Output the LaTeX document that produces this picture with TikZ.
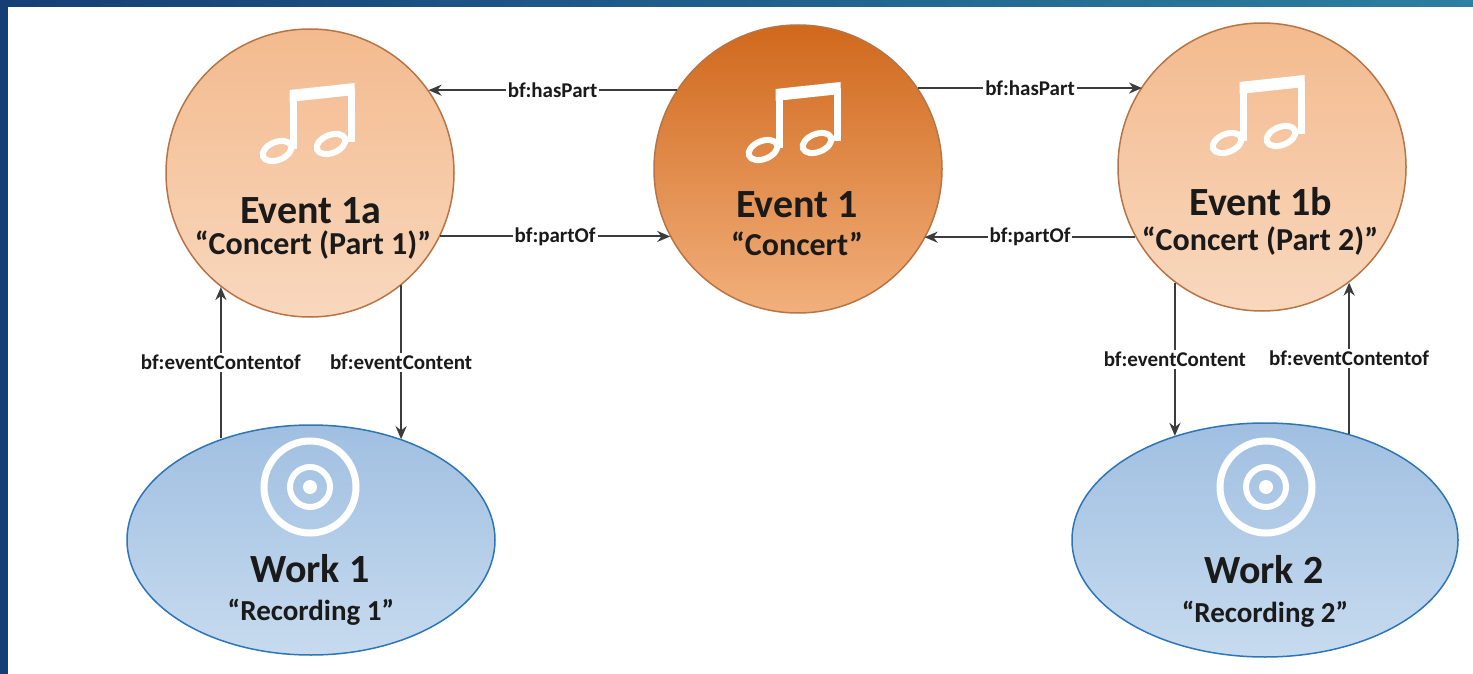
\documentclass[tikz,border=0pt]{standalone}
\usepackage{fontspec}
\setmainfont{Carlito}
\usetikzlibrary{arrows.meta,shapes.geometric}

\definecolor{bandleft}{RGB}{22,62,118}
\definecolor{bandright}{RGB}{44,128,160}
\definecolor{eventtop}{RGB}{243,186,142}
\definecolor{eventbot}{RGB}{249,216,190}
\definecolor{maintop}{RGB}{208,104,28}
\definecolor{mainbot}{RGB}{242,176,124}
\definecolor{eventline}{RGB}{184,116,68}
\definecolor{worktop}{RGB}{160,191,225}
\definecolor{workbot}{RGB}{199,219,239}
\definecolor{workline}{RGB}{46,117,182}
\definecolor{linegray}{RGB}{60,60,60}
\definecolor{ink}{RGB}{26,26,26}

\tikzset{
  event/.style={circle, draw=eventline, line width=1.5pt, minimum size=288pt, inner sep=0pt,
    top color=eventtop, bottom color=eventbot},
  mainevent/.style={event, top color=maintop, bottom color=mainbot},
  work/.style={ellipse, draw=workline, line width=1.5pt, inner sep=0pt,
    top color=worktop, bottom color=workbot},
  nametext/.style={font=\fontsize{40}{44}\selectfont\bfseries, text=ink, anchor=base},
  quotetext/.style={font=\fontsize{32}{36}\selectfont\bfseries, text=ink, anchor=base},
  rel/.style={draw=linegray, line width=2pt, -{Stealth[length=13pt,width=11pt]}},
  rellabel/.style={font=\fontsize{21}{23}\selectfont\bfseries, text=ink, fill=white, inner sep=2pt},
  pics/note/.style={code={
    \fill[white] (-18.5,-35) -- (46.5,-42) -- (46.5,-30) -- (-18.5,-23) -- cycle;
    \draw[white, line width=7pt] (-15,-30) -- (-15,24) (43,-36) -- (43,17);
    \draw[white, line width=6pt, shift={(-31,26)}, rotate=22] (0,0) ellipse [x radius=15, y radius=9];
    \draw[white, line width=6pt, shift={(23,19)}, rotate=22] (0,0) ellipse [x radius=15, y radius=9];
  }},
  pics/disc/.style={code={
    \draw[white, line width=7pt] (0,0) circle [radius=46];
    \draw[white, line width=6pt] (0,0) circle [radius=20];
    \fill[white] (0,0) circle [radius=7];
  }}
}

\begin{document}
\begin{tikzpicture}[x=1pt, y=-1pt]
  % frame
  \useasboundingbox (0,0) rectangle (1473,674);
  \fill[white] (0,0) rectangle (1473,674);
  \shade[left color=bandleft, right color=bandright] (0,0) rectangle (1473,7);
  \fill[bandleft] (0,0) rectangle (8,674);

  \node[event]     (Ev1a) at (310,173)  {};
  \node[mainevent] (Ev1)  at (798,169)  {};
  \node[event]     (Ev1b) at (1262,167) {};
  \node[work, minimum width=368pt, minimum height=230pt] (W1) at (311,540)  {};
  \node[work, minimum width=386pt, minimum height=234pt] (W2) at (1265,540) {};

  \pic at (308,125)  {note};
  \pic at (794,124)  {note};
  \pic at (1258,117) {note};
  \pic at (310,487)  {disc};
  \pic at (1266,487) {disc};

  \node[nametext]  (Ev1aName)  at (311,223)  {Event 1a};
  \node[quotetext] (Ev1aQuote) at (313,254)  {“Concert (Part 1)”};
  \node[nametext]  (Ev1Name)   at (797,218)  {Event 1};
  \node[quotetext] (Ev1Quote)  at (797,255)  {“Concert”};
  \node[nametext]  (Ev1bName)  at (1261,215) {Event 1b};
  \node[quotetext] (Ev1bQuote) at (1260,250) {“Concert (Part 2)”};
  \node[nametext]  (W1Name)    at (310,582)  {Work 1};
  \node[quotetext, font=\fontsize{29}{33}\selectfont\bfseries] (W1Quote) at (311,620) {“Recording 1”};
  \node[nametext]  (W2Name)    at (1264,583) {Work 2};
  \node[quotetext, font=\fontsize{29}{33}\selectfont\bfseries] (W2Quote) at (1265,622) {“Recording 2”};

  \path (Ev1.147)  edge[rel] node[rellabel] {bf:hasPart} (Ev1.147 -| Ev1a.35);
  \path (Ev1a.-26) edge[rel] node[rellabel] {bf:partOf}  (Ev1a.-26 -| Ev1.208);
  \path (Ev1.34)   edge[rel] node[rellabel] {bf:hasPart} (Ev1.34 -| Ev1b.146);
  \path (Ev1b.209) edge[rel] node[rellabel] {bf:partOf}  (Ev1b.209 -| Ev1.-29);

  \path (W1.131 -| Ev1a.232) edge[rel] node[rellabel] {bf:eventContentof} (Ev1a.232);
  \path (Ev1a.309) edge[rel] node[rellabel] {bf:eventContent} (Ev1a.309 |- W1.48);
  \path (Ev1b.233) edge[rel] node[rellabel] {bf:eventContent} (Ev1b.233 |- W2.131);
  \path (W2.52 -| Ev1b.307) edge[rel] node[rellabel] {bf:eventContentof} (Ev1b.307);
\end{tikzpicture}
\end{document}
